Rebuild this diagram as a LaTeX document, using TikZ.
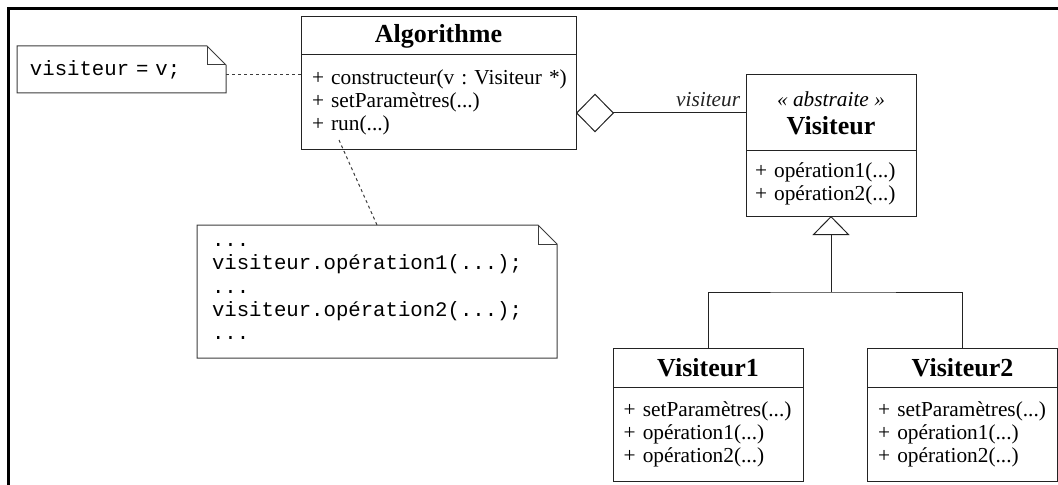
\documentclass[tikz,border=0pt]{standalone}
\usepackage{fontspec}
\setmainfont{Liberation Serif}
\setmonofont{Liberation Mono}
\usepackage{tikz}
\usetikzlibrary{arrows.meta,positioning}
\definecolor{umlline}{RGB}{35,35,35}
\definecolor{noteline}{RGB}{60,60,60}
\newcommand{\opfont}{\fontsize{16}{17.25}\selectfont\frenchspacing}
\newcommand{\headfont}{\fontsize{19.5}{21}\selectfont\bfseries}
\newcommand{\notefont}{\fontsize{15.5}{17.5}\selectfont\ttfamily}
\newlength{\foldsz}\setlength{\foldsz}{14.25pt}
\newcommand{\dogear}[1]{%
  \draw[noteline,line width=0.75pt] (#1.north west) -- ([xshift=-\foldsz]#1.north east)
    -- ([yshift=-\foldsz]#1.north east) -- (#1.south east) -- (#1.south west) -- cycle;
  \draw[noteline,line width=0.75pt] ([xshift=-\foldsz]#1.north east) |- ([yshift=-\foldsz]#1.north east);}

\begin{document}
\begin{tikzpicture}[
  x=0.75pt,y=-0.75pt,
  classhead/.style={draw=umlline,line width=0.75pt,outer sep=0pt,inner sep=0pt,
    font=\headfont,align=center},
  classops/.style={draw=umlline,line width=0.75pt,outer sep=0pt,inner ysep=0pt,
    font=\opfont,align=left},
  notebox/.style={anchor=north west,outer sep=0pt,inner ysep=0pt,font=\notefont,align=left},
  notelink/.style={noteline,line width=0.75pt,dash pattern=on 2.25pt off 2.25pt},
  assoc/.style={umlline,line width=0.75pt},
]
  \useasboundingbox (0,0) rectangle (1058,485);
  \draw[line width=2.25pt] (8.5,485) -- (8.5,8.5) -- (1058,8.5);

  \node[classhead,minimum width=206.25pt,minimum height=28.5pt] (algo) at (438.5,36) {Algorithme};
  \node[classops,below=0pt of algo,text width=189.75pt,inner xsep=8.25pt,minimum height=71.25pt] (algoops)
    {\mbox{+ constructeur(v : Visiteur *)}\\+ setParamètres(...)\\+ run(...)};

  \node[classhead,minimum width=127.5pt,minimum height=57pt] (vis) at (831,113)
    {{\mdseries\itshape\opfont « abstraite »}\\Visiteur};
  \node[classops,below=0pt of vis,text width=114pt,inner xsep=6.75pt,minimum height=48.75pt] (visops)
    {+ opération1(...)\\+ opération2(...)};

  \node[classhead,minimum width=142.5pt,minimum height=29.25pt] (v1) at (708,367.5) {Visiteur1};
  \node[classops,below=0pt of v1,text width=126.5pt,inner xsep=8pt,minimum height=70.5pt] (v1ops)
    {+ setParamètres(...)\\+ opération1(...)\\+ opération2(...)};
  \node[classhead,minimum width=142.5pt,minimum height=29.25pt] (v2) at (962.5,367.5) {Visiteur2};
  \node[classops,below=0pt of v2,text width=126.5pt,inner xsep=8pt,minimum height=70.5pt] (v2ops)
    {+ setParamètres(...)\\+ opération1(...)\\+ opération2(...)};

  \node[notebox,minimum width=156.75pt,minimum height=35.25pt,text width=137.25pt,inner xsep=9.75pt]
    (vnote) at (17,46) {visiteur = v;};
  \dogear{vnote}
  \node[notebox,minimum width=270pt,minimum height=99.75pt,text width=247.5pt,inner xsep=11.25pt]
    (codenote) at (197,225)
    {...\\visiteur.opération1(...);\\...\\visiteur.opération2(...);\\...};
  \dogear{codenote}

  \coordinate (hook) at ([yshift=-3.4pt]vnote.east);
  \draw[notelink] (hook) -- (hook -| algoops.west);
  \coordinate (runpt) at ([xshift=28.5pt,yshift=7.5pt]algoops.south west);
  \draw[notelink] (runpt) -- (codenote.north);

  \draw[assoc,{Diamond[open,length=28.5pt,width=29pt]}-] (vis.west -| algoops.east) -- (vis.west)
    node[pos=1,anchor=south east,inner sep=4pt,font=\opfont\itshape] {visiteur};

  \coordinate (fork) at ([yshift=-57pt]visops.south);
  \draw[assoc] (v1.north) |- (fork) -| (v2.north);
  \draw[assoc,-{Triangle[open,length=14.25pt,width=27.75pt]}] (fork) -- (visops.south);
\end{tikzpicture}
\end{document}
